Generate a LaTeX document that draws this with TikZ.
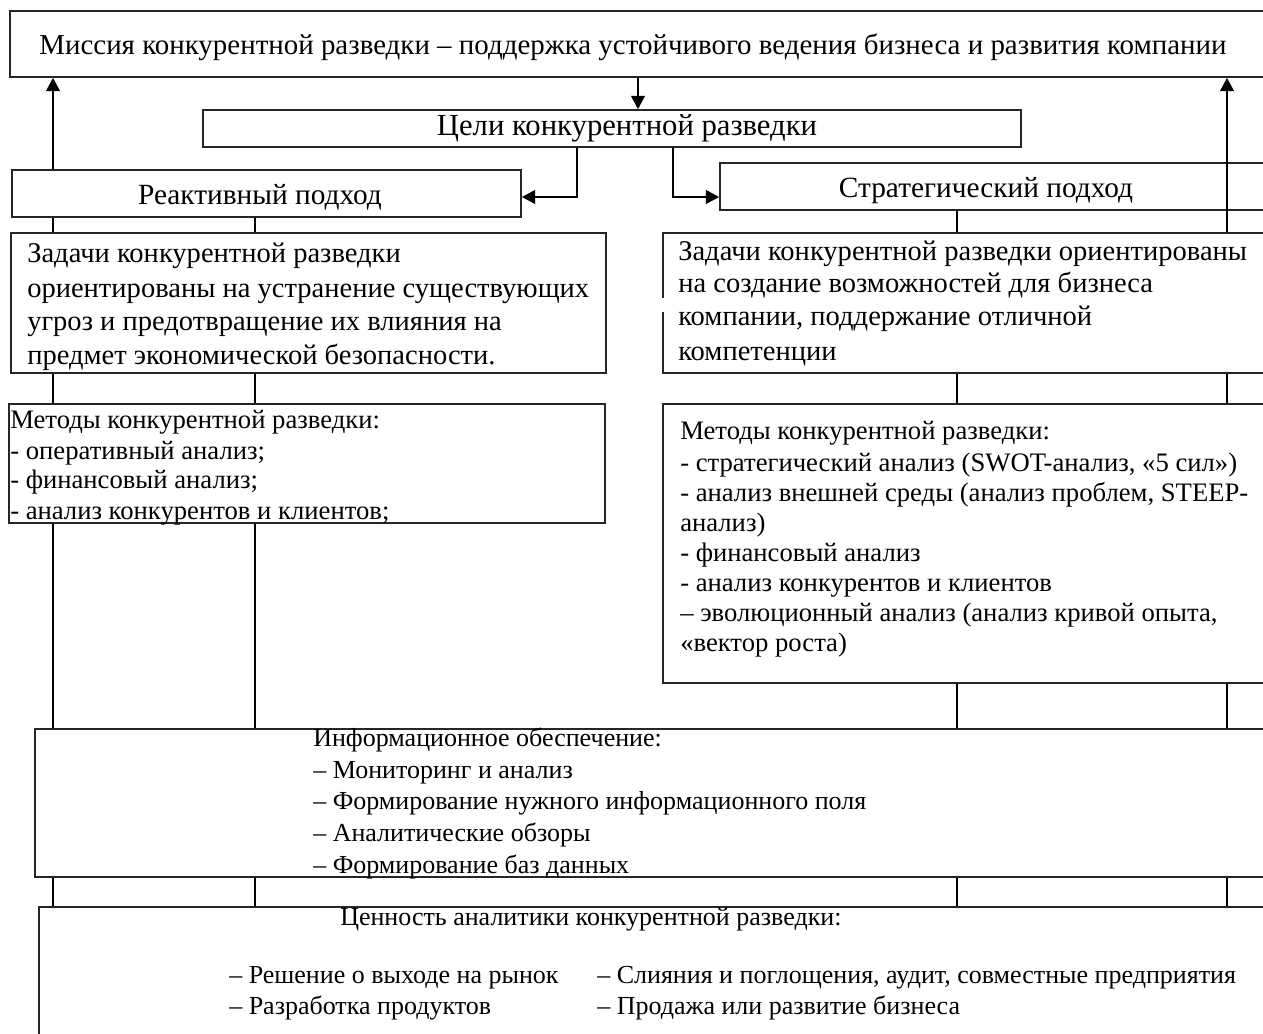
\documentclass[tikz,border=0pt]{standalone}
\usepackage{fontspec}
\setmainfont{Liberation Serif}
\usetikzlibrary{fit,arrows.meta}
\begin{document}
\begin{tikzpicture}[x=0.75pt,y=-0.75pt,
  box/.style={draw=black!85, line width=1.1pt, fill=white, inner sep=0pt, rectangle},
  conn/.style={draw=black, line width=1.5pt},
  thickconn/.style={draw=black, line width=2pt},
  arr/.style={draw=black, line width=2pt, -{Triangle[length=10pt,width=10pt]}},
  big/.style={font=\fontsize{22}{26}\selectfont},
  mis/.style={font=\fontsize{21.7}{26}\selectfont},
  goal/.style={font=\fontsize{23}{26}\selectfont},
  task/.style={font=\fontsize{21.4}{26}\selectfont},
  mid/.style={font=\fontsize{19.5}{23}\selectfont},
  midl/.style={font=\fontsize{20}{23}\selectfont},
  tl/.style={anchor=base west, inner sep=0pt},
  tc/.style={anchor=base, inner sep=0pt}]
\useasboundingbox (0,0) rectangle (1263,1033);
\clip (0,0) rectangle (1263,1033);
\fill[white] (0,0) rectangle (1263,1033);
% column coordinates
\coordinate (L1) at (53,0);
\coordinate (L2) at (255,0);
\coordinate (R1) at (957,0);
\coordinate (R2) at (1227,0);
\coordinate (M) at (638,0);
\coordinate (B1) at (577,197);
\coordinate (B2) at (673,197);
% boxes
\node[box, fit={(10,11) (1275,77)}] (mission) {};
\node[box, fit={(203,110) (1021,147)}] (goals) {};
\node[box, fit={(12,170) (521,217)}] (react) {};
\node[box, fit={(720,163) (1275,210)}] (strat) {};
\node[box, fit={(11,233) (606,373)}] (zadL) {};
\node[box, fit={(663,233) (1275,373)}] (zadR) {};
\node[box, fit={(9,404) (605,523)}] (metL) {};
\node[box, fit={(663,404) (1275,683)}] (metR) {};
\node[box, fit={(35,729) (1275,877)}] (info) {};
\node[box, fit={(39,907) (1275,1045)}] (value) {};
\draw[white, line width=3pt] (663,298) -- (663,312);
% texts
\node[mis, tc] (tmission) at (633,54) {Миссия конкурентной разведки – поддержка устойчивого ведения бизнеса и развития компании};
\node[goal, tc] (tgoals) at (627,135) {Цели конкурентной разведки};
\node[big, tc] (treact) at (260,204) {Реактивный подход};
\node[big, tc] (tstrat) at (986,197) {Стратегический подход};
\node[task, tl] (tzl1) at (27,262) {Задачи конкурентной разведки};
\node[task, tl] (tzl2) at (27,297) {ориентированы на устранение существующих};
\node[task, tl] (tzl3) at (27,330) {угроз и предотвращение их влияния на};
\node[task, tl] (tzl4) at (27,364) {предмет экономической безопасности.};
\node[task, tl] (tzr1) at (678,260) {Задачи конкурентной разведки ориентированы};
\node[task, tl] (tzr2) at (678,292) {на создание возможностей для бизнеса};
\node[task, tl] (tzr3) at (678,325) {компании, поддержание отличной};
\node[task, tl] (tzr4) at (678,360) {компетенции};
\node[midl, tl] (tml1) at (10,428) {Методы конкурентной разведки:};
\node[midl, tl] (tml2) at (10,459) {- оперативный анализ;};
\node[midl, tl] (tml3) at (10,488) {- финансовый анализ;};
\node[midl, tl] (tml4) at (10,519) {- анализ конкурентов и клиентов;};
\node[midl, tl] (tmr1) at (680,439) {Методы конкурентной разведки:};
\node[midl, tl] (tmr2) at (680,471) {- стратегический анализ (SWOT-анализ, «5 сил»)};
\node[midl, tl] (tmr3) at (680,501) {- анализ внешней среды (анализ проблем, STEEP-};
\node[midl, tl] (tmr4) at (680,531) {анализ)};
\node[midl, tl] (tmr5) at (680,561) {- финансовый анализ};
\node[midl, tl] (tmr6) at (680,591) {- анализ конкурентов и клиентов};
\node[midl, tl] (tmr7) at (680,621) {– эволюционный анализ (анализ кривой опыта,};
\node[midl, tl] (tmr8) at (680,651) {«вектор роста)};
\node[mid, tl] (ti1) at (313,746) {Информационное обеспечение:};
\node[mid, tl] (ti2) at (313,778) {– Мониторинг и анализ};
\node[mid, tl] (ti3) at (313,809) {– Формирование нужного информационного поля};
\node[mid, tl] (ti4) at (313,841) {– Аналитические обзоры};
\node[mid, tl] (ti5) at (313,873) {– Формирование баз данных};
\node[mid, tl] (tv1) at (340,925) {Ценность аналитики конкурентной разведки:};
\node[mid, tl] (tv2) at (229,983) {– Решение о выходе на рынок};
\node[mid, tl] (tv3) at (229,1014) {– Разработка продуктов};
\node[mid, tl] (tv4) at (597,983) {– Слияния и поглощения, аудит, совместные предприятия};
\node[mid, tl] (tv5) at (597,1014) {– Продажа или развитие бизнеса};
% connectors between goals
\draw[arr] (mission.south -| M) -- (goals.north -| M);
\draw[arr] (goals.south -| B1) |- (react.east |- B1);
\draw[arr] (goals.south -| B2) |- (strat.west |- B2);
% feedback arrows to mission
\draw[arr] (react.north -| L1) -- (mission.south -| L1);
\draw[arr] (zadR.north -| R2) -- (mission.south -| R2);
% left chain
\draw[thickconn] (react.south -| L1) -- (zadL.north -| L1);
\draw[thickconn] (zadL.south -| L1) -- (metL.north -| L1);
\draw[thickconn] (metL.south -| L1) -- (info.north -| L1);
\draw[thickconn] (info.south -| L1) -- (value.north -| L1);
\draw[conn] (react.south -| L2) -- (zadL.north -| L2);
\draw[conn] (zadL.south -| L2) -- (metL.north -| L2);
\draw[conn] (metL.south -| L2) -- (info.north -| L2);
\draw[conn] (info.south -| L2) -- (value.north -| L2);
% right chain
\draw[conn] (strat.south -| R1) -- (zadR.north -| R1);
\draw[conn] (zadR.south -| R1) -- (metR.north -| R1);
\draw[conn] (metR.south -| R1) -- (info.north -| R1);
\draw[conn] (info.south -| R1) -- (value.north -| R1);
\draw[thickconn] (zadR.south -| R2) -- (metR.north -| R2);
\draw[thickconn] (metR.south -| R2) -- (info.north -| R2);
\draw[thickconn] (info.south -| R2) -- (value.north -| R2);
\end{tikzpicture}
\end{document}
